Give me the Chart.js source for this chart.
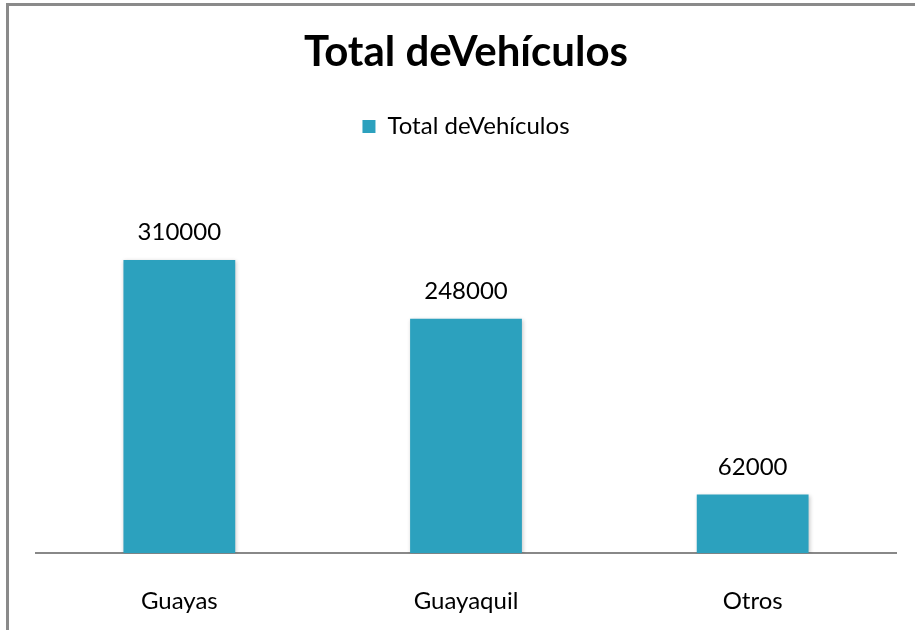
<!DOCTYPE html>
<html>
<head>
<meta charset="utf-8">
<script src="https://cdn.jsdelivr.net/npm/chart.js@4/dist/chart.umd.min.js"></script>
<style>
  body { margin: 0; background: #fff; overflow: hidden; }
  #frame { position: absolute; left: 6px; top: 3px; width: 960px; height: 700px;
           border-left: 3px solid #8a8a8a; border-top: 3px solid #8a8a8a; pointer-events: none; }
  #wrap { position: absolute; left: 0; top: 0; width: 915px; height: 664px; }
</style>
</head>
<body>
<div id="wrap"><canvas id="grafico"></canvas></div>
<div id="frame"></div>
<script>
  // Datos del gráfico
  const categorias = ['Guayas', 'Guayaquil', 'Otros'];
  const totalVehiculos = [310000, 248000, 62000];
  const nombreSerie = 'Total deVehículos';
  const titulo = 'Total deVehículos';

  const fuente = 'Lato, "Open Sans", sans-serif';

  // Etiquetas de valor encima de cada barra + sombra suave
  const etiquetasPlugin = {
    id: 'etiquetas',
    beforeDatasetsDraw(chart) {
      const ctx = chart.ctx;
      ctx.save();
      ctx.shadowColor = 'rgba(0,0,0,0.22)';
      ctx.shadowBlur = 4;
      ctx.shadowOffsetX = 1;
      ctx.shadowOffsetY = 1;
    },
    afterDatasetsDraw(chart) {
      const ctx = chart.ctx;
      ctx.restore();
      ctx.save();
      ctx.font = '24px ' + fuente;
      ctx.fillStyle = '#000';
      ctx.textAlign = 'center';
      ctx.textBaseline = 'alphabetic';
      chart.getDatasetMeta(0).data.forEach((bar, i) => {
        ctx.fillText(String(chart.data.datasets[0].data[i]), bar.x, bar.y - 20);
      });
      ctx.restore();
    }
  };

  const ctx = document.getElementById('grafico');
  new Chart(ctx, {
    type: 'bar',
    data: {
      labels: categorias,
      datasets: [{
        label: nombreSerie,
        data: totalVehiculos,
        backgroundColor: '#2CA1BE',
        borderWidth: 0,
        barPercentage: 0.39,
        categoryPercentage: 1
      }]
    },
    options: {
      responsive: true,
      maintainAspectRatio: false,
      animation: false,
      layout: { padding: { left: 36, right: 19, top: 0, bottom: 14 } },
      scales: {
        x: {
          grid: { display: false, drawTicks: false },
          border: { display: true, color: '#888', width: 2 },
          ticks: { color: '#000', font: { family: fuente, size: 24 }, padding: 34 }
        },
        y: {
          display: false,
          min: 0,
          max: 428000
        }
      },
      plugins: {
        title: {
          display: true,
          text: titulo,
          color: '#000',
          font: { family: fuente, size: 42, weight: 'bold' },
          padding: { top: 27, bottom: 27 }
        },
        legend: {
          display: true,
          labels: {
            color: '#000',
            font: { family: fuente, size: 24 },
            boxWidth: 13,
            boxHeight: 13,
            padding: 10
          }
        },
        tooltip: { enabled: false }
      }
    },
    plugins: [etiquetasPlugin]
  });
</script>
</body>
</html>
